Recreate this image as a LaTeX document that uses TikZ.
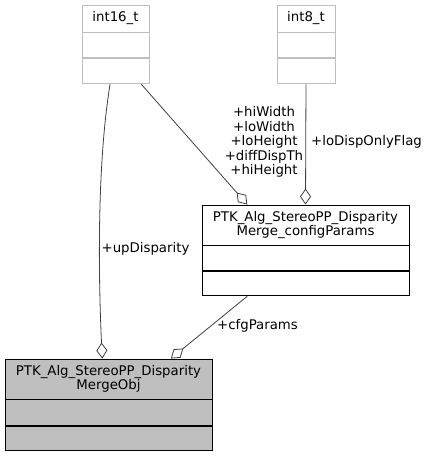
\documentclass[tikz,border=0pt]{standalone}
\usepackage{fontspec}
\setmainfont{DejaVu Sans}
\usetikzlibrary{arrows.meta, positioning, calc}
\definecolor{boxgray}{RGB}{191,191,191}
\definecolor{edgegray}{RGB}{64,64,64}
\newcommand{\dxfont}{\fontsize{13.3}{14.6}\selectfont}
\tikzset{
  classtitle/.style={rectangle, draw=black, fill=white, minimum width=207pt, minimum height=40pt,
    inner sep=0pt, align=center, font=\dxfont, line width=0.9pt},
  classrow/.style={rectangle, draw=black, fill=white, minimum width=207pt, inner sep=0pt, line width=0.9pt},
  typetitle/.style={rectangle, draw=boxgray, fill=white, minimum height=27pt,
    inner sep=0pt, align=center, font=\dxfont, line width=0.9pt},
  typerow/.style={rectangle, draw=boxgray, fill=white, minimum height=25pt, inner sep=0pt, line width=0.9pt},
  aggr/.style={-{Diamond[open, length=16pt, width=11pt, fill=white]}, color=edgegray, line width=0.8pt},
  memberlabel/.style={font=\dxfont, align=center, inner sep=0pt}
}
\begin{document}
\begin{tikzpicture}[x=1pt, y=-1pt]
  \useasboundingbox (0,0) rectangle (426,456);
  % basic types on top
  \node[typetitle, minimum width=67pt] (i16) at (115.5,18.5) {int16\_t};
  \node[typerow, minimum width=67pt, below=0pt of i16] (i16a) {};
  \node[typerow, minimum width=67pt, below=0pt of i16a] (i16b) {};
  \node[typetitle, minimum width=58pt] (i8) at (306,18.5) {int8\_t};
  \node[typerow, minimum width=58pt, below=0pt of i8] (i8a) {};
  \node[typerow, minimum width=58pt, below=0pt of i8a] (i8b) {};
  % config params struct
  \node[classtitle] (cfg) at (305.5,225) {PTK\_Alg\_StereoPP\_Disparity\\Merge\_configParams};
  \node[classrow, minimum height=25pt, below=0pt of cfg] (cfga) {};
  \node[classrow, minimum height=24pt, below=0pt of cfga] (cfgb) {};
  % merge object
  \node[classtitle, fill=boxgray] (obj) at (108.5,379) {PTK\_Alg\_StereoPP\_Disparity\\MergeObj};
  \node[classrow, fill=boxgray, minimum height=26pt, below=0pt of obj] (obja) {};
  \node[classrow, fill=boxgray, minimum height=24pt, below=0pt of obja] (objb) {};
  % aggregations
  \draw[aggr] ($(i16b.south west)!0.42!(i16b.south east)$) .. controls (96,170) and (99,290) .. ($(obj.north west)!0.47!(obj.north east)$);
  \draw[aggr] ($(i16b.south west)!0.88!(i16b.south east)$) -- ($(cfg.north west)!0.22!(cfg.north east)$);
  \draw[aggr] (i8b.south) -- (cfg.north);
  \draw[aggr] ($(cfgb.south west)!0.22!(cfgb.south east)$) -- ($(obj.north west)!0.80!(obj.north east)$);
  % member names
  \node[memberlabel] (updisp) at (145.5,249) {+upDisparity};
  \node[memberlabel] (sizes) at (264,142) {+hiWidth\\+loWidth\\+loHeight\\+diffDispTh\\+hiHeight};
  \node[memberlabel, anchor=west] (flag) at (311,142) {+loDispOnlyFlag};
  \node[memberlabel, anchor=west] (cfgp) at (217,326) {+cfgParams};
\end{tikzpicture}
\end{document}
